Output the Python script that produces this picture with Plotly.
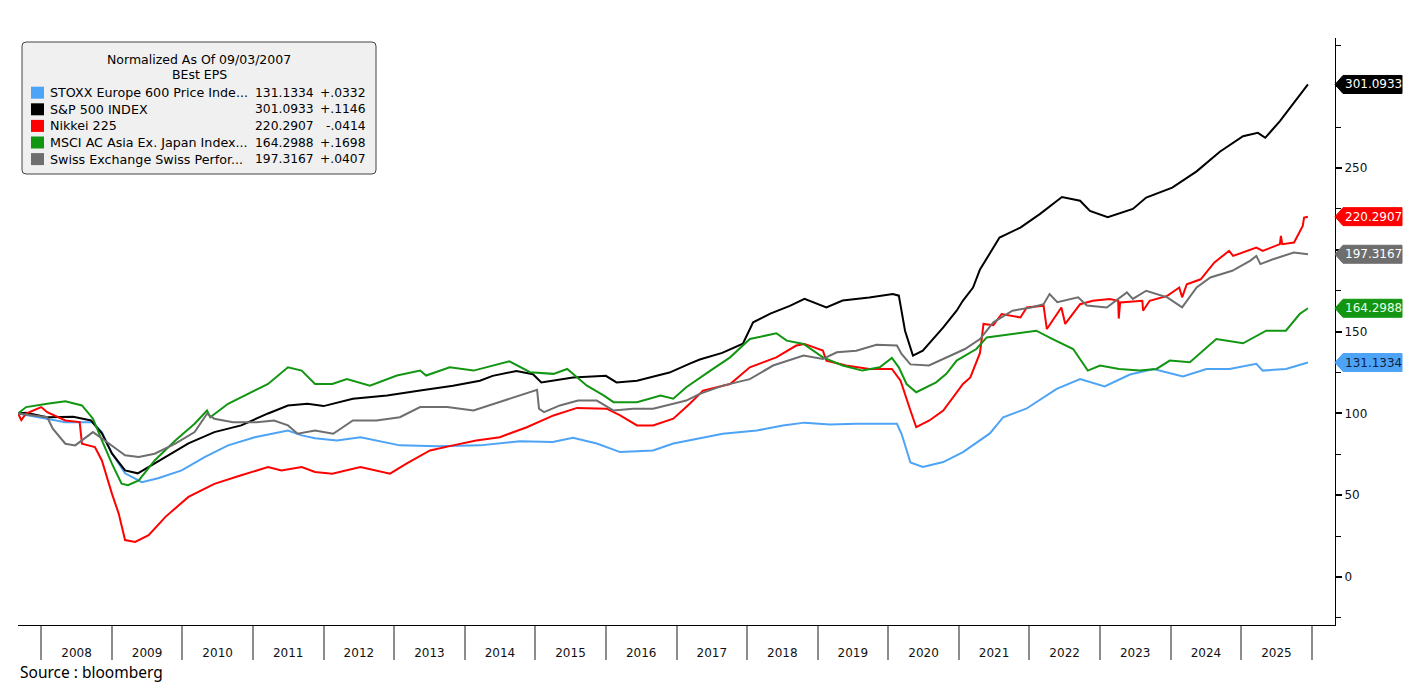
import plotly.graph_objects as go

# ---------------- data ----------------
stoxx_dates = ["2007-09-03","2008-02-01","2008-05-05","2008-09-20","2008-11-10","2009-01-01","2009-03-10","2009-06-05","2009-08-28","2009-12-28","2010-04-28","2010-08-25","2011-01-10","2011-07-01","2011-09-10","2011-11-18","2012-03-10","2012-07-10","2013-01-30","2013-08-08","2014-03-20","2014-10-12","2015-04-01","2015-07-15","2015-11-15","2016-03-15","2016-09-01","2016-12-15","2017-05-01","2017-08-28","2018-02-20","2018-07-05","2018-10-25","2019-03-05","2019-07-20","2020-02-15","2020-03-10","2020-04-25","2020-06-28","2020-10-12","2021-01-22","2021-06-10","2021-08-18","2021-12-15","2022-05-22","2022-09-20","2023-01-25","2023-06-05","2023-10-05","2024-03-05","2024-07-05","2024-11-01","2025-03-20","2025-04-22","2025-08-20","2025-12-12"]
stoxx_vals = [100,97,94.7,94.7,88.6,75.6,63.4,58,60.4,65.2,73.4,80.5,85.5,89.6,86.6,84.8,83.5,85.5,80.5,80,80.5,83,82.5,85.2,81.6,76.4,77.4,81.6,85,87.6,89.6,92.6,94.4,93.3,93.7,93.7,87.6,70,67.3,70.3,76.4,87.8,97.7,102.9,115,121,116.5,123.8,127.2,122.6,127.2,127.2,130.3,126.2,127.2,131.1334]

spx_dates = ["2007-09-03","2007-10-15","2008-02-01","2008-06-15","2008-09-15","2008-11-10","2009-01-01","2009-03-10","2009-05-15","2009-07-10","2009-10-05","2010-02-01","2010-06-15","2010-11-01","2011-03-20","2011-07-01","2011-10-10","2012-01-01","2012-06-01","2012-11-25","2013-05-15","2013-11-01","2014-03-20","2014-05-25","2014-09-25","2014-12-20","2015-02-01","2015-04-01","2015-07-15","2016-01-01","2016-02-25","2016-06-10","2016-11-25","2017-03-10","2017-05-01","2017-08-25","2017-12-10","2018-02-01","2018-05-01","2018-08-10","2018-10-25","2019-02-15","2019-05-10","2019-09-25","2020-01-25","2020-02-25","2020-03-28","2020-05-08","2020-06-28","2020-10-12","2020-12-20","2021-01-22","2021-03-15","2021-04-20","2021-07-30","2021-11-15","2022-02-25","2022-06-18","2022-09-20","2022-11-10","2023-02-10","2023-06-20","2023-08-28","2024-01-10","2024-05-15","2024-09-12","2025-01-10","2025-03-28","2025-05-05","2025-07-20","2025-10-15","2025-12-12"]
spx_vals = [100,100.5,97.7,98,95.7,87.8,75.6,65.2,63.4,67.3,73.4,81.7,88.6,92.7,100,104.9,106,104.5,109,111,114,117,120,123,126,124,119,120,122,123,119,120,125,130.5,133,137,142.6,155.7,161,165.8,170,164.8,169,170.9,173,172,150.6,135.4,138.4,152.6,162.8,169,177,188,207.5,213.6,222,232.3,230,223.8,220,225,232,238,248,260,269.5,271.5,268.5,278.7,292,301.0933]

nky_dates = ["2007-09-03","2007-09-20","2007-10-15","2008-01-01","2008-02-01","2008-05-05","2008-07-18","2008-07-30","2008-10-05","2008-11-10","2009-01-01","2009-02-05","2009-03-10","2009-05-01","2009-07-10","2009-10-05","2010-02-01","2010-06-15","2010-11-01","2011-03-20","2011-05-28","2011-09-10","2011-11-18","2012-02-15","2012-07-10","2012-12-10","2013-03-05","2013-07-05","2013-11-01","2014-03-01","2014-07-01","2014-11-18","2015-04-05","2015-08-05","2016-01-05","2016-03-15","2016-06-10","2016-09-01","2016-12-15","2017-03-10","2017-05-18","2017-10-05","2018-01-15","2018-06-01","2018-09-12","2018-10-25","2019-01-28","2019-02-15","2019-05-28","2019-09-25","2020-01-20","2020-03-05","2020-04-25","2020-05-25","2020-08-01","2020-10-12","2021-01-22","2021-03-01","2021-04-20","2021-05-08","2021-06-28","2021-08-10","2021-11-15","2021-12-18","2022-03-15","2022-04-01","2022-06-15","2022-07-05","2022-09-20","2022-11-25","2023-02-20","2023-04-05","2023-04-08","2023-04-15","2023-08-08","2023-08-12","2023-09-15","2023-12-15","2024-02-15","2024-03-01","2024-03-25","2024-06-05","2024-08-15","2024-10-30","2024-11-20","2025-03-20","2025-04-22","2025-07-20","2025-07-25","2025-08-01","2025-10-01","2025-11-15","2025-11-22","2025-12-12"]
nky_vals = [100,96,100,103.9,100.8,95.7,94.7,81.5,79.5,71.3,51,38.8,22.6,21.5,25.6,36.8,49,57,62.2,67.3,65.2,67.3,64.2,63.2,67.3,63.2,69.3,77.4,80.5,83.5,85.5,91.6,98.8,103.4,102.9,98.8,92.7,92.7,96.8,105.9,114,118,128.2,134.3,141.5,142.5,138.4,132.3,129.3,127.2,127.2,120,101.8,91.6,95.7,101.8,118,122,137,154.7,154,160.8,158.7,164.8,165.9,151.6,164.8,154.7,166.8,168.9,169.9,168.9,158,167.9,168.9,162.8,168.9,171.9,177,171,179,182,192.3,199.4,196.3,201.4,199.4,203.5,208.5,203.5,204.5,214.6,219.7,220.2907]

msci_dates = ["2007-09-03","2007-10-15","2008-02-01","2008-05-05","2008-07-30","2008-09-25","2008-11-10","2009-01-01","2009-02-20","2009-03-25","2009-05-20","2009-08-10","2009-11-25","2010-03-05","2010-05-08","2010-05-25","2010-08-25","2010-12-10","2011-03-20","2011-07-01","2011-09-10","2011-11-18","2012-02-15","2012-05-01","2012-08-28","2013-01-15","2013-05-15","2013-06-15","2013-10-15","2014-02-15","2014-05-28","2014-08-20","2014-12-05","2015-04-05","2015-06-15","2015-09-25","2015-12-20","2016-02-10","2016-06-10","2016-10-10","2016-12-15","2017-02-20","2017-06-25","2017-10-05","2018-01-15","2018-06-01","2018-07-25","2018-10-20","2019-01-28","2019-05-10","2019-08-20","2019-11-18","2020-01-20","2020-02-25","2020-04-05","2020-05-25","2020-09-05","2020-10-28","2020-12-20","2021-04-01","2021-05-25","2021-10-10","2022-02-05","2022-05-01","2022-08-15","2022-10-30","2023-01-01","2023-04-10","2023-07-25","2023-10-20","2023-12-28","2024-04-10","2024-08-25","2025-01-10","2025-05-10","2025-08-20","2025-10-30","2025-12-12"]
msci_vals = [100,103.9,105.9,107.5,104.9,96.8,83.5,69.3,57.1,56.1,59.1,71.3,83.5,93.7,101.8,97.7,105.9,112,118,128.2,126.2,118,118,121,117,123.2,126.2,123.2,128.2,126.2,129.3,131.9,125.2,124.2,127.2,117,111,106.9,106.9,111,109,116,126.2,134.3,145.5,149,144.5,142.5,134.3,129.3,126.2,128.2,134,128.2,118,113,119,124.2,132.3,139.4,146.5,148.6,150.6,145.5,139.4,126.2,129.3,127.2,126.2,127.2,132.3,131.3,145.5,142.9,150.6,150.6,160.8,164.2988]

smi_dates = ["2007-09-03","2007-11-10","2008-02-01","2008-03-01","2008-05-05","2008-06-25","2008-08-10","2008-09-25","2008-11-25","2009-01-20","2009-03-10","2009-05-20","2009-08-10","2009-11-25","2010-03-05","2010-05-08","2010-06-15","2010-09-20","2011-01-20","2011-04-20","2011-07-01","2011-08-20","2011-11-18","2012-02-20","2012-06-01","2012-10-01","2013-01-30","2013-05-15","2013-10-01","2014-02-15","2014-07-01","2014-10-12","2015-01-10","2015-01-20","2015-02-15","2015-05-08","2015-08-10","2015-11-15","2016-02-10","2016-05-20","2016-09-01","2016-12-15","2017-02-20","2017-05-01","2017-08-28","2018-01-15","2018-05-15","2018-10-20","2019-01-28","2019-04-10","2019-07-20","2019-11-01","2020-02-15","2020-03-10","2020-04-25","2020-07-30","2020-10-28","2021-02-01","2021-04-20","2021-06-28","2021-10-05","2022-01-10","2022-03-15","2022-04-15","2022-05-25","2022-09-10","2022-10-25","2023-02-05","2023-05-20","2023-06-20","2023-08-28","2023-12-15","2024-03-01","2024-05-15","2024-07-25","2024-11-15","2025-02-15","2025-03-20","2025-04-10","2025-06-15","2025-09-30","2025-12-12"]
smi_vals = [100,98.8,97.7,90.7,81.5,80.5,84.6,88.6,83.5,78.5,74.4,73.4,75.4,81.5,88.6,99.8,96.8,94.7,94.7,95.7,92.7,87.6,89.6,87.6,95.7,95.7,97.7,103.9,103.9,101.8,106.9,111,114.5,102.9,100.8,104.9,107.9,107.9,101.8,102.9,102.9,105.9,107.9,112,117,121,129.3,135.4,133.3,137.4,138.4,142,141.5,136.4,130,129.3,134.3,139.4,145.5,155.7,162.8,164.8,166.8,173,168,171,166,164.8,174,170,175,171,164.8,177,183.1,187.2,193.3,196.3,191.3,194.3,198.4,197.3167]

series_names = ["STOXX Europe 600 Price Inde...", "S&P 500 INDEX", "Nikkei 225",
                "MSCI AC Asia Ex. Japan Index...", "Swiss Exchange Swiss Perfor..."]
series_last = [131.1334, 301.0933, 220.2907, 164.2988, 197.3167]
series_chg = ["+.0332", "+.1146", "-.0414", "+.1698", "+.0407"]
legend_title = ["Normalized As Of 09/03/2007", "BEst EPS"]
year_labels = [str(y) for y in range(2008, 2026)]
y_ticks = [0, 50, 100, 150, 200, 250, 300]
y_ticktext = ["0", "50", "100", "150", "", "250", ""]
source_text = "Source : bloomberg"

# ---------------- style ----------------
colors = ["#4da3f5", "#000000", "#ff0000", "#129612", "#6e6e6e"]
label_text_colors = ["#0c1f45", "#ffffff", "#ffffff", "#e6ffe6", "#ffffff"]
FONT = "DejaVu Sans"

OFF = 8  # page body margin offset
W_FIG, H_FIG = 1419, 690
L, T = 18 - OFF, 38 - OFF
PW = 1317
PH = 587
R = W_FIG - L - PW
B = H_FIG - T - PH
Y_RANGE = [-29.3, 329.5]
UNIT_PX = PH / (Y_RANGE[1] - Y_RANGE[0])


def px(xp):
    return (xp - OFF - L) / PW


def py(yp):
    return 1 - (yp - OFF - T) / PH


all_dates = [stoxx_dates, spx_dates, nky_dates, msci_dates, smi_dates]
all_vals = [stoxx_vals, spx_vals, nky_vals, msci_vals, smi_vals]

fig = go.Figure()
for i in range(5):
    fig.add_trace(go.Scatter(x=all_dates[i], y=all_vals[i], mode="lines",
                             line=dict(color=colors[i], width=2),
                             name=series_names[i], showlegend=False))

shapes = []
annotations = []

# legend box (rounded)
x0, x1 = px(22), px(376)
y0, y1 = py(42), py(174)
rx, ry = 4 / PW, 4 / PH
path = (f"M {x0+rx},{y0} L {x1-rx},{y0} Q {x1},{y0} {x1},{y0-ry} "
        f"L {x1},{y1+ry} Q {x1},{y1} {x1-rx},{y1} L {x0+rx},{y1} "
        f"Q {x0},{y1} {x0},{y1+ry} L {x0},{y0-ry} Q {x0},{y0} {x0+rx},{y0} Z")
shapes.append(dict(type="path", xref="paper", yref="paper", path=path,
                   fillcolor="#f0f0f0", line=dict(color="#444444", width=1), layer="above"))
for k, ty in enumerate([59, 74]):
    annotations.append(dict(xref="paper", yref="paper", x=px(199), y=py(ty), text=legend_title[k],
                            showarrow=False, xanchor="center", yanchor="middle",
                            font=dict(family=FONT, size=12.5, color="#000")))
for i in range(5):
    yc = 92.7 + i * 16.6
    shapes.append(dict(type="rect", xref="paper", yref="paper",
                       x0=px(31), x1=px(44), y0=py(yc - 6), y1=py(yc + 6),
                       fillcolor=colors[i], line=dict(width=0), layer="above"))
    annotations.append(dict(xref="paper", yref="paper", x=px(48), y=py(yc), text=series_names[i],
                            showarrow=False, xanchor="left", yanchor="middle",
                            font=dict(family=FONT, size=12.7, color="#000")))
    annotations.append(dict(xref="paper", yref="paper", x=px(316), y=py(yc), text=f"{series_last[i]:.4f}",
                            showarrow=False, xanchor="right", yanchor="middle",
                            font=dict(family=FONT, size=12.3, color="#000")))
    annotations.append(dict(xref="paper", yref="paper", x=px(368), y=py(yc), text=series_chg[i],
                            showarrow=False, xanchor="right", yanchor="middle",
                            font=dict(family=FONT, size=12.3, color="#000")))

# value tags at right axis
hy = 9 / UNIT_PX
for i in range(5):
    v = series_last[i]
    a, b, c = 1.0, 1 + 8 / PW, 1 + 67 / PW
    p = f"M {a},{v} L {b},{v+hy} L {c},{v+hy} L {c},{v-hy} L {b},{v-hy} Z"
    shapes.append(dict(type="path", xref="paper", yref="y", path=p,
                       fillcolor=colors[i], line=dict(color=colors[i], width=1), layer="above"))
    annotations.append(dict(xref="paper", yref="y", x=1 + 38 / PW, y=v, text=f"{v:.4f}",
                            showarrow=False, xanchor="center", yanchor="middle",
                            font=dict(family=FONT, size=12, color=label_text_colors[i])))

annotations.append(dict(xref="paper", yref="paper", x=0, y=py(672), text=source_text,
                        showarrow=False, xanchor="left", yanchor="middle",
                        font=dict(family="Noto Sans", size=15.5, color="#000")))

fig.update_layout(
    width=W_FIG, height=H_FIG,
    margin=dict(l=L, r=R, t=T, b=B, pad=0),
    paper_bgcolor="white", plot_bgcolor="white",
    showlegend=False,
    shapes=shapes, annotations=annotations,
    font=dict(family=FONT, size=12, color="#000"),
    xaxis=dict(type="date", range=["2007-09-03", "2026-05-01"],
               tickvals=[f"{y}-07-02" for y in year_labels], ticktext=year_labels,
               ticks="outside", ticklen=17, tickcolor="rgba(0,0,0,0)",
               showline=True, linecolor="#000", linewidth=1,
               showgrid=False, zeroline=False,
               tickfont=dict(family=FONT, size=12, color="#111"),
               minor=dict(tickvals=[f"{y}-01-01" for y in range(2008, 2027)],
                          ticks="outside", ticklen=34, tickcolor="#8c8c8c", tickwidth=1.5)),
    yaxis=dict(side="right", range=Y_RANGE, tickvals=y_ticks, ticktext=y_ticktext,
               ticks="outside", ticklen=6, tickwidth=2, tickcolor="#000",
               showline=True, linecolor="#000", linewidth=1,
               showgrid=False, zeroline=False,
               tickfont=dict(family=FONT, size=12, color="#111"),
               minor=dict(dtick=25, tick0=0, ticks="outside", ticklen=5, tickwidth=1, tickcolor="#000")),
)

fig.write_html("out.html")
